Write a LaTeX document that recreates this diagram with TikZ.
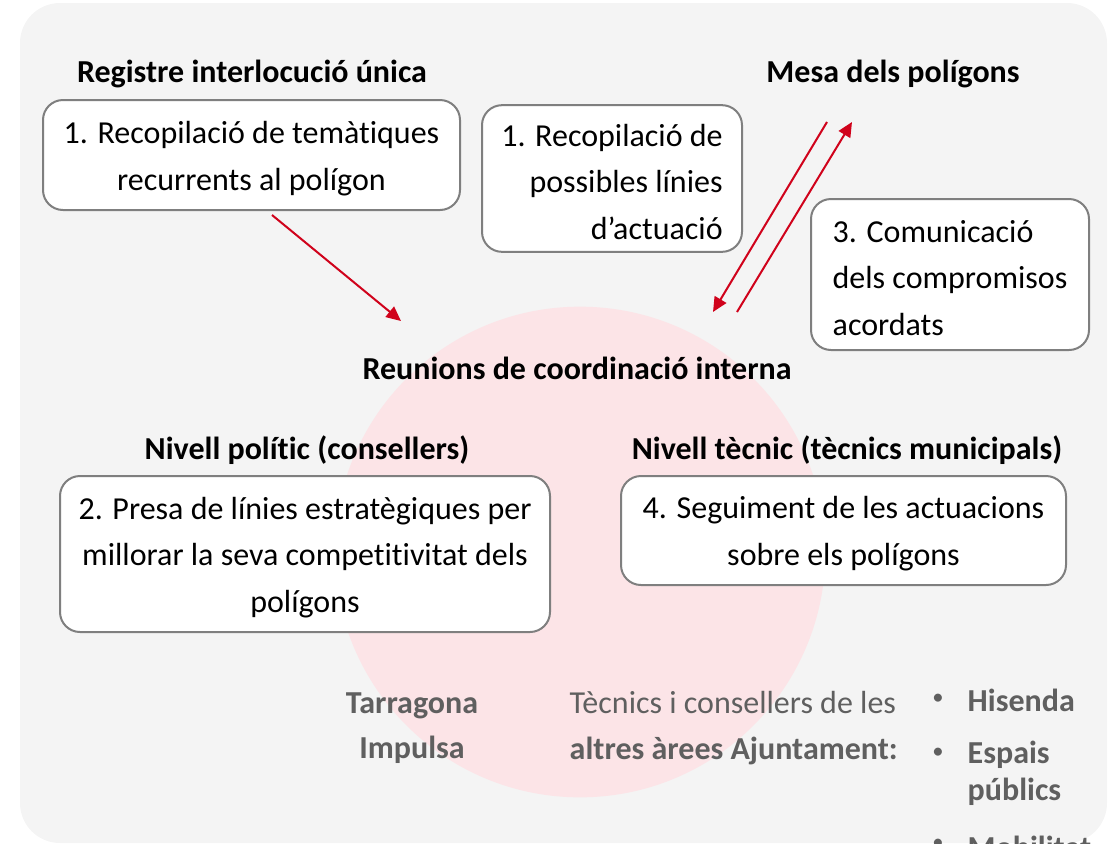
\documentclass[tikz,border=0pt]{standalone}
\usepackage{fontspec}
\setmainfont{Carlito}[Ligatures=NoCommon]
\usetikzlibrary{arrows.meta}
\definecolor{bggrey}{RGB}{244,244,244}
\definecolor{circpink}{RGB}{252,228,231}
\definecolor{boxgrey}{RGB}{127,127,127}
\definecolor{arrred}{RGB}{208,2,27}
\definecolor{txtgrey}{RGB}{95,95,95}

\begin{document}
\begin{tikzpicture}[x=0.75pt, y=-0.75pt,
    box/.style={draw=boxgrey, fill=white, rounded corners=15pt, line width=1.5pt, inner sep=0pt},
    boxtext/.style={font=\fontsize{24}{35}\selectfont, yshift=-2.5pt},
    head/.style={font=\bfseries\fontsize{24}{35}\selectfont},
    greytext/.style={text=txtgrey, font=\fontsize{24}{34}\selectfont},
    greybold/.style={text=txtgrey, font=\bfseries\fontsize{24}{34}\selectfont},
    arr/.style={-{Triangle[length=11pt, width=10pt]}, arrred, line width=1.5pt}]
    \useasboundingbox (0,0) rectangle (1110,843);
    \clip (0,0) rectangle (1110,843);
    \fill[bggrey, rounded corners=30pt] (20,3) rectangle (1107,843);
    \fill[circpink] (580,552) circle[radius=184pt];

    \node[head] at (252,74) (registre) {Registre interlocució única};
    \node[head] at (893,74) (mesa) {Mesa dels polígons};
    \node[box, minimum width=312.75pt, minimum height=82.5pt] at (251.5,155) (recA) {};
    \node[boxtext, align=center] at (recA.center) (recAtxt) {1. Recopilació de temàtiques\\recurrents al polígon};
    \node[box, minimum width=195pt, minimum height=110pt] at (612,178.5) (recB) {};
    \node[boxtext, align=right] at (recB.center) (recBtxt) {1. Recopilació de\\possibles línies\\d’actuació};
    \node[box, minimum width=208.5pt, minimum height=113.25pt] at (950,274.5) (comu) {};
    \node[boxtext, align=left] at (comu.center) (comutxt) {3. Comunicació\\dels compromisos\\acordats};

    \node[head] at (577,368) (reunions) {Reunions de coordinació interna};
    \node[head] at (307,450) (politic) {Nivell polític (consellers)};
    \node[head] at (847,450) (tecnic) {Nivell tècnic (tècnics municipals)};
    \node[box, minimum width=367.5pt, minimum height=117pt] at (305,554) (presa) {};
    \node[boxtext, align=center] at (presa.center) (presatxt) {2. Presa de línies estratègiques per\\millorar la seva competitivitat dels\\polígons};
    \node[box, minimum width=333.75pt, minimum height=81.75pt] at (843.5,530.5) (segui) {};
    \node[boxtext, align=center] at (segui.center) (seguitxt) {4. Seguiment de les actuacions\\sobre els polígons};

    \node[greybold, align=center] at (412,728) (tgn) {Tarragona\\Impulsa};
    \node[greytext, align=left, anchor=west] at (565,728) (altres) {Tècnics i consellers de les\\\textbf{altres àrees Ajuntament:}};
    \node[greytext, font=\fontsize{17}{20}\selectfont] at (938,699) (b1) {•};
    \node[greytext, font=\fontsize{17}{20}\selectfont] at (938,753) (b2) {•};
    \node[greytext, font=\fontsize{17}{20}\selectfont] at (938,844) (b3) {•};
    \node[greybold, anchor=west] at (963,700) (hisenda) {Hisenda};
    \node[greybold, anchor=west, align=left, font=\bfseries\fontsize{24}{28}\selectfont] at (963,773) (espais) {Espais\\públics};
    \node[greybold, anchor=west] at (963,847) (mobil) {Mobilitat};

    % fletxes
    \coordinate (regout) at (272,215);
    \coordinate (reuin) at (401,321);
    \coordinate (mesaout) at (827,122);
    \coordinate (reuin2) at (713,312);
    \coordinate (reuout) at (737,312);
    \coordinate (mesain) at (852,122);
    \draw[arr] (regout) -- (reuin);
    \draw[arr] (mesaout) -- (reuin2);
    \draw[arr] (reuout) -- (mesain);
\end{tikzpicture}
\end{document}
